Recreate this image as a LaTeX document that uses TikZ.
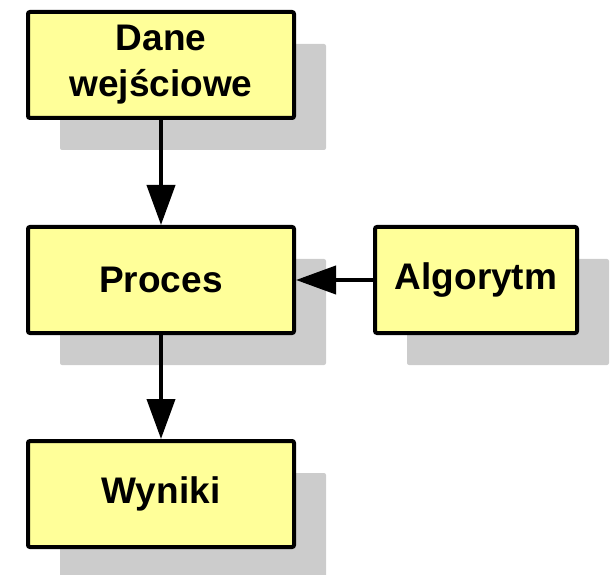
\documentclass[tikz,border=0pt]{standalone}
\usepackage{fontspec}
\setmainfont{Liberation Sans}
\usepackage{tikz}
\usetikzlibrary{arrows.meta,shadows}

\definecolor{boxfill}{HTML}{FFFF99}
\definecolor{shadowgray}{HTML}{CCCCCC}

\tikzset{
  block/.style={draw=black,line width=4pt,fill=boxfill,rounded corners=2pt,
    minimum height=106pt,align=center,inner sep=0pt,
    font=\fontsize{37}{46}\selectfont\bfseries,
    drop shadow={shadow xshift=32pt,shadow yshift=-32pt,fill=shadowgray,opacity=1}},
  flow/.style={line width=4pt,-{Triangle[length=40pt,width=28pt]}}
}

\begin{document}
\begin{tikzpicture}[x=1pt,y=-1pt]
    \useasboundingbox (0,0) rectangle (614,575);
    \node[block,minimum width=266pt] (dane) at (161,65) {Dane\\wejściowe};
    \node[block,minimum width=266pt] (proces) at (161,280) {Proces};
    \node[block,minimum width=202pt] (alg) at (476,280) {Algorytm};
    \node[block,minimum width=266pt] (wyniki) at (161,494) {Wyniki};

    \draw[flow] (dane) -- (proces);
    \draw[flow] (alg) -- (proces);
    \draw[flow] (proces) -- (wyniki);
\end{tikzpicture}
\end{document}
